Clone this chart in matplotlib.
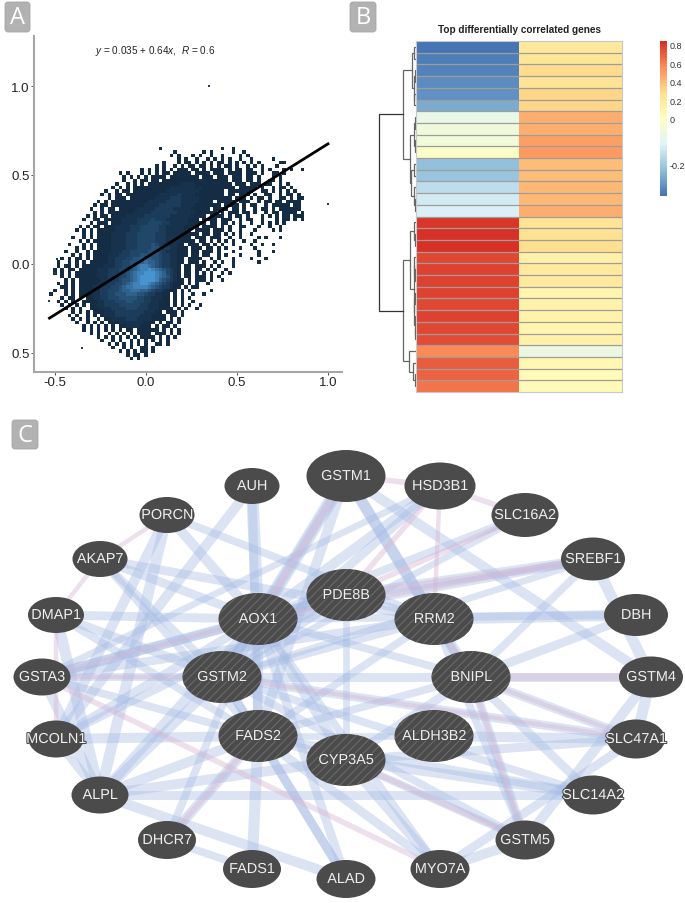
"""Three panel figure: correlation density, gene heatmap, gene network."""

import matplotlib
matplotlib.use("Agg")
import matplotlib.pyplot as plt
import numpy as np
from matplotlib.colors import LinearSegmentedColormap, PowerNorm, TwoSlopeNorm
from matplotlib.patches import Ellipse, FancyBboxPatch
from matplotlib import patheffects

plt.rcParams["font.family"] = ["Liberation Sans", "DejaVu Sans"]
plt.rcParams["hatch.linewidth"] = 0.7
plt.rcParams["mathtext.fontset"] = "custom"
plt.rcParams["mathtext.rm"] = "Liberation Sans"
plt.rcParams["mathtext.it"] = "Liberation Sans:italic"

WIDTH, HEIGHT = 685, 904

# ── Panel A data ──────────────────────────────────────────────────────────────

# bins of 0.02, one row per y from the top down,
# (first x bin, counts level) where "." is an empty bin
BIN = 0.02
X_ORIGIN = -0.56
Y_ORIGIN = 0.65
density_rows = [
    (32, "1................1..1"),
    (36, "1.......1.1.....1..1"),
    (35, "1.1...1.1..1..1....1.1"),
    (37, "1.1..1..1.1.1.1..1..1.....1"),
    (33, "1...1.11.1.1.1.11.1.1.1.1.1.....11"),
    (31, "1.1..1.1.11.11.1.1.11.1..1.1.1...1"),
    (27, "1.1.1.1.1.111.11.1.1111.1.11.11..1.1...1.1..1"),
    (21, "1.1...1.1.1.11.11111.1111.111.1111.111.1..11.1"),
    (22, "1.1.1.1.1111.11111111.111.111.111.11.1...1.1"),
    (22, "1..1.11.11.111111111122111111.111.11.1..11.1."),
    (20, "1..1.1.1.1" "1111111122" "2211111111" "11.111.111" ".11..1.1"),
    (19, "1.1.1.1111" "1111112222" "2221211111" "1111.11111" ".1..1.11.1"),
    (17, "1..1.11.11" "1111111222" "2222221111" "111.111111" "1..11.1.1." "1.1"),
    (16, "1.1.11.111" "1111112222" "2322221111" "1111.11.11" "1.1..11..1" ".11.1"),
    (16, "..1.111.11" "1111122223" "3322222111" "111111.111" ".1.11.1..1" "1.1.11"),
    (15, "1.1.111111" "1111222223" "3332222211" "11.11111.1" "11..1.11.1" "1.1111"),
    (14, "1.11.11111" "1111222233" "3333222211" "11111.1111" ".1.11..1.1" "1111.11"),
    (13, "1..1.11.11" "1112222233" "3332222211" "111.1111.1" "1.1..1.11." "1.111111"),
    (13, ".1.1.11111" "1122222333" "3333222221" "11111.1.11" "1.11.1..1." "11.1111.11"),
    (12, "1.1.11.111" "1222223333" "3332222221" "111.1111.1" ".11.1...1." "1.1.11.111"),
    (11, "1..11.1111" "1222233334" "3332222221" "11.1111.11" "1..1.11..1" "...1.11.1." "11"),
    (11, "..1.111.11" "1222233344" "4433222221" "1111.11.11" ".1.1..1..1" ".1.1.1"),
    (10, "1.1.11.111" "2222333444" "4433222221" "111.1111.1" ".1..11...1" "..1..1"),
    (9, "1.1.1.1111" "1222233344" "4443322222" "11.1111.11" "1.1..1...1" "....1.1."),
    (9, "..1.1.1111" "2222333444" "4433322221" "1111.11.11" ".1.1.1..1."),
    (8, "1..1.1.111" "1222233344" "4443332222" "111.111.11" "1..1..1..." ".1.1...1.."),
    (8, "..1.1.1111" "1222233344" "4443332222" "1111.11.1." "1.1.1..1.." "1"),
    (7, "1...1.1.11" "1122223334" "4445433222" "11.111.11." "1.1..1...." "1..1..1"),
    (7, "..1.1.1.11" "1122223334" "4445543322" "111.111.11" ".1.1...1.." ".1."),
    (6, "1..1..1.11" "1112223344" "4445554322" "2111.11.11" "1.1...1..." "...1...1"),
    (6, "..1.1.1.11" "1122233344" "4555554332" "2111.11.11" "..1.1...1." "...1"),
    (5, "1.1.11.1.1" "1112233344" "5566655433" "2211.1111." ".1.1...1.." "..1...1"),
    (4, "1..1.1.1.1" "1111223344" "5566766543" "32211.111." "1..1.1..1." ".....1"),
    (4, "1.11.1.111" "1112223344" "5678876543" "3221.11.11" "1.1.1...1"),
    (3, "1.1.11.111" "1122233344" "4567889876" "54321.11.1" "1.1.1..1"),
    (3, "1.1.1.1111" "1122233344" "5678899987" "64321.11.1" ".1.1..1.1"),
    (4, ".1.1.11111" "1222333445" "6789999876" "5321.11.11" "1.1.1"),
    (4, "..1.1.1111" "1122333455" "6789999865" "43211.1.11" "1.1..1"),
    (4, "1.1.1.1111" "1223334456" "7889987654" "32111.1.1." ".1"),
    (4, ".11.1.1111" "2233344567" "7888876543" "3211.1.11."),
    (3, "1..1.1.111" "1223344456" "6777665433" "2111.1.1.." "...1"),
    (2, "1...1.1.11" "1122334455" "5666554332" "211.1.1..1" "..1"),
    (3, "..1.11.1.1" "1223344455" "5554433222" "11.1.1.1"),
    (4, "1.1.1..111" "1223334445" "5444332211" "1.1.1..1"),
    (5, "1.1.1.1.11" "2233334444" "4433222111" ".1.1.1..1"),
    (6, "1.1.1..111" "2223333444" "3332221111" ".1.1..1"),
    (6, "..1.1.1.11" "1222333333" "3322211.11" "1.1"),
    (7, "1.1..1.1.1" "2223333333" "2221111.11" ".1"),
    (8, "1.1.1..1.1" "1222233322" "221111.1.1"),
    (9, "1..1.1.1.1" "1122222221" "11.1.11.1"),
    (9, "..1.1.1.1." "1.11222211" "1.1.11.1"),
    (11, "1.1.1.1.1." "1.11.11111" "1.1.1.1"),
    (13, "1.1..1.1.1" ".1.1111.11" "1.1.1"),
    (15, "1.1.1.1.1." "1.1111.1.1" ".1"),
    (16, "1..1.1..1." "1.1.1.1.1"),
    (18, "1.1.1.1.1." "1..11.1"),
    (19, "1..1.1..11" ".1"),
    (21, "1.1.1.11.1"),
    (23, "1.11.1"),
    (24, "1.1"),
]

# single isolated bins
outlier_x = [0.345, 1.0, -0.53, -0.5, -0.49, -0.35]
outlier_y = [1.0, 0.335, -0.21, -0.05, 0.03, -0.47]

# fit printed on the panel
fit_intercept = 0.035
fit_slope = 0.64
fit_x = [-0.53, 1.0]

a_xticks = [-0.5, 0.0, 0.5, 1.0]
a_xlabels = ["-0.5", "0.0", "0.5", "1.0"]
a_yticks = [-0.5, 0.0, 0.5, 1.0]
a_ylabels = ["0.5", "0.0", "0.5", "1.0"]

# ── Panel B data ──────────────────────────────────────────────────────────────

heat_left = [-0.33, -0.32, -0.31, -0.30, -0.29, -0.25, -0.08, -0.06, -0.05, -0.02,
             -0.22, -0.21, -0.16, -0.13, -0.115, 0.81, 0.84, 0.84, 0.77, 0.78,
             0.78, 0.79, 0.76, 0.78, 0.77, 0.75, 0.56, 0.70, 0.68, 0.63]
heat_right = [0.21, 0.22, 0.29, 0.24, 0.31, 0.31, 0.44, 0.45, 0.49, 0.52,
              0.39, 0.40, 0.42, 0.42, 0.45, 0.24, 0.26, 0.27, 0.12, 0.20,
              0.19, 0.10, 0.11, 0.11, 0.09, 0.12, -0.07, 0.07, 0.03, 0.04]

heat_colors = ["#4575b4", "#91bfdb", "#e0f3f8", "#ffffbf", "#fee090", "#fc8d59", "#d73027"]
heat_min, heat_max = -0.334, 0.843
heat_ticks = [0.8, 0.6, 0.4, 0.2, 0, -0.2]
heat_ticklabels = ["0.8", "0.6", "0.4", "0.2", "0", "-0.2"]

# row clustering as (height, child, child), a bare int is a row
row_tree = (112,
            (39,
             (12, (6, 0, 1), (7, (4, 2, 3), (5, 4, 5))),
             (19,
              (7, (4, 6, 7), (3, 8, 9)),
              (15, (6, 10, 11), (5, 12, (3, 13, 14))))),
            (40,
             (17,
              (6, 15, (3, 16, 17)),
              (7, (5, 18, (3, 19, 20)), (5, (3, 21, 22), (4, 23, (3, 24, 25))))),
             (20, 26, (9, 27, (4, 28, 29)))))

# ── Panel C data ──────────────────────────────────────────────────────────────

# name: centre x, centre y, width, height in picture pixels
outer_nodes = {
    "GSTM1": (346, 477, 79, 52), "HSD3B1": (440, 487, 71, 47),
    "SLC16A2": (525, 516, 67, 44), "SREBF1": (593, 560, 64, 43),
    "DBH": (636, 616, 64, 42), "GSTM4": (651, 678, 64, 41),
    "SLC47A1": (636, 740, 58, 39), "SLC14A2": (593, 796, 60, 39),
    "GSTM5": (525, 841, 59, 39), "MYO7A": (440, 870, 59, 38),
    "ALAD": (346, 880, 59, 38), "FADS1": (252, 870, 58, 38),
    "DHCR7": (167, 841, 58, 38), "ALPL": (100, 796, 57, 37),
    "MCOLN1": (56, 740, 55, 37), "GSTA3": (42, 678, 57, 37),
    "DMAP1": (56, 616, 56, 36), "AKAP7": (100, 560, 55, 36),
    "PORCN": (167, 516, 55, 36), "AUH": (252, 487, 55, 36),
}
inner_nodes = {
    "AOX1": (258, 620, 79, 52), "PDE8B": (346, 596, 79, 52),
    "RRM2": (434, 620, 79, 52), "BNIPL": (471, 678, 79, 52),
    "ALDH3B2": (434, 737, 79, 52), "CYP3A5": (346, 761, 79, 52),
    "FADS2": (258, 737, 79, 52), "GSTM2": (222, 678, 79, 52),
}

blue_edges = [
    ("AUH", "AOX1", 11), ("AUH", "FADS2", 8), ("AUH", "MCOLN1", 9),
    ("PORCN", "MCOLN1", 9), ("PORCN", "ALPL", 10), ("PORCN", "AOX1", 9), ("PORCN", "RRM2", 7),
    ("AKAP7", "AOX1", 8), ("AKAP7", "RRM2", 8), ("AKAP7", "GSTM2", 7), ("AKAP7", "FADS2", 7),
    ("DMAP1", "AOX1", 8), ("DMAP1", "ALPL", 10), ("DMAP1", "GSTM2", 8), ("DMAP1", "FADS2", 7),
    ("GSTA3", "AOX1", 8), ("GSTA3", "PDE8B", 9), ("GSTA3", "RRM2", 8),
    ("GSTA3", "GSTM2", 7), ("GSTA3", "FADS2", 7), ("GSTA3", "ALPL", 9),
    ("MCOLN1", "FADS2", 9), ("MCOLN1", "AOX1", 8), ("MCOLN1", "ALPL", 8), ("MCOLN1", "PDE8B", 7),
    ("ALPL", "AOX1", 9), ("ALPL", "GSTM2", 9), ("ALPL", "FADS2", 9), ("ALPL", "CYP3A5", 9),
    ("ALPL", "SLC14A2", 8), ("ALPL", "ALAD", 9),
    ("DHCR7", "FADS2", 9), ("DHCR7", "AOX1", 7), ("DHCR7", "FADS1", 7),
    ("FADS1", "FADS2", 10),
    ("ALAD", "FADS2", 8), ("ALAD", "AOX1", 8), ("ALAD", "GSTM2", 8),
    ("MYO7A", "CYP3A5", 9), ("MYO7A", "AOX1", 7), ("MYO7A", "GSTM5", 9),
    ("MYO7A", "SLC47A1", 8), ("MYO7A", "FADS2", 8),
    ("GSTM5", "BNIPL", 8), ("GSTM5", "RRM2", 7), ("GSTM5", "CYP3A5", 7),
    ("GSTM5", "GSTM4", 9), ("GSTM5", "GSTM2", 7),
    ("SLC14A2", "CYP3A5", 9), ("SLC14A2", "FADS2", 8), ("SLC14A2", "BNIPL", 8), ("SLC14A2", "GSTM2", 7),
    ("SLC47A1", "BNIPL", 8), ("SLC47A1", "ALDH3B2", 9), ("SLC47A1", "GSTM2", 8),
    ("SLC47A1", "CYP3A5", 8), ("SLC47A1", "GSTM4", 10),
    ("GSTM4", "BNIPL", 8), ("GSTM4", "GSTM1", 9), ("GSTM4", "SREBF1", 10),
    ("DBH", "RRM2", 10), ("DBH", "BNIPL", 8), ("DBH", "AOX1", 7),
    ("SREBF1", "PDE8B", 9), ("SREBF1", "AOX1", 8), ("SREBF1", "BNIPL", 7), ("SREBF1", "GSTM2", 6),
    ("SLC16A2", "AOX1", 7), ("SLC16A2", "GSTM2", 6),
    ("HSD3B1", "AOX1", 9), ("HSD3B1", "GSTM2", 8), ("HSD3B1", "GSTA3", 6),
    ("GSTM1", "AOX1", 12), ("GSTM1", "RRM2", 10), ("GSTM1", "BNIPL", 10),
    ("GSTM1", "GSTM2", 9), ("GSTM1", "FADS2", 9),
    ("PDE8B", "AOX1", 8), ("PDE8B", "RRM2", 7), ("PDE8B", "GSTM2", 7), ("PDE8B", "CYP3A5", 6),
    ("AOX1", "BNIPL", 7), ("AOX1", "GSTM2", 9), ("AOX1", "FADS2", 9), ("AOX1", "CYP3A5", 9),
    ("RRM2", "GSTM2", 7), ("RRM2", "BNIPL", 7), ("RRM2", "FADS2", 7),
    ("BNIPL", "GSTM2", 8), ("BNIPL", "FADS2", 7), ("BNIPL", "CYP3A5", 8),
    ("GSTM2", "FADS2", 8), ("FADS2", "CYP3A5", 8), ("FADS2", "ALDH3B2", 6),
]
pink_edges = [
    ("AKAP7", "DMAP1", 4), ("AKAP7", "PORCN", 4), ("DMAP1", "MCOLN1", 4),
    ("GSTA3", "MYO7A", 5), ("GSTM1", "HSD3B1", 5), ("HSD3B1", "SLC16A2", 5),
    ("SLC16A2", "PDE8B", 5), ("HSD3B1", "PDE8B", 5), ("HSD3B1", "RRM2", 4),
    ("SREBF1", "PDE8B", 5), ("SREBF1", "AOX1", 4), ("GSTM1", "AOX1", 6),
    ("BNIPL", "GSTM4", 7), ("BNIPL", "SLC47A1", 4), ("BNIPL", "GSTM5", 5),
    ("GSTM2", "SLC47A1", 4), ("CYP3A5", "GSTM5", 5), ("DHCR7", "FADS2", 5),
    ("GSTA3", "GSTM2", 4), ("AOX1", "GSTA3", 4), ("RRM2", "BNIPL", 5),
]

panel_letters = [("A", 5, 3, 25, 30), ("B", 350, 3, 26, 30), ("C", 12, 421, 26, 29)]


def px_axes(fig, left, top, right, bottom):
    return fig.add_axes([left / WIDTH, 1 - bottom / HEIGHT,
                         (right - left) / WIDTH, (bottom - top) / HEIGHT])


def draw_density(ax):
    n_cols = 72
    grid = np.full((len(density_rows), n_cols), np.nan)
    for r, (start, cells) in enumerate(density_rows):
        for i, ch in enumerate(cells):
            if ch != "." and start + i < n_cols:
                grid[r, start + i] = int(ch)
    x_edges = X_ORIGIN + BIN * np.arange(n_cols + 1) - BIN / 2
    y_edges = Y_ORIGIN + BIN / 2 - BIN * np.arange(len(density_rows) + 1)
    cmap = LinearSegmentedColormap.from_list("gg", ["#132B43", "#56B1F7"])
    ax.pcolormesh(x_edges, y_edges, np.ma.masked_invalid(grid), cmap=cmap,
                  norm=PowerNorm(gamma=1.5, vmin=0.5, vmax=10.5))
    ax.scatter(outlier_x, outlier_y, marker="s", s=3, color="#1d3f5f", linewidths=0)

    line_x = np.array(fit_x)
    ax.plot(line_x, fit_intercept + fit_slope * line_x, color="black", lw=2.0)

    ax.set_xlim(-0.615, 1.077)
    ax.set_ylim(-0.607, 1.281)
    ax.set_xticks(a_xticks, a_xlabels)
    ax.set_yticks(a_yticks, a_ylabels)
    ax.tick_params(labelsize=9.5, length=2, width=0.7, pad=1, color="#555555", labelcolor="#222222")
    for side in ("top", "right"):
        ax.spines[side].set_visible(False)
    for side in ("left", "bottom"):
        ax.spines[side].set_color("#a6a6a6")
        ax.spines[side].set_linewidth(1.5)
    ax.text(0.198, 0.957, r"$y$ = 0.035 + 0.64$x$,  $R$ = 0.6", transform=ax.transAxes,
            ha="left", va="center", fontsize=7.2, color="#222222")


def draw_tree(ax, node):
    """Draws the subtree, returns its row position."""
    if isinstance(node, int):
        return node + 0.5, 0
    height, first, second = node
    y1, h1 = draw_tree(ax, first)
    y2, h2 = draw_tree(ax, second)
    color = "#333333" if height > 100 else "#666666"
    ax.plot([h1, height, height, h2], [y1, y1, y2, y2], color=color, lw=0.9,
            solid_joinstyle="miter")
    return (y1 + y2) / 2, height


def draw_heatmap(fig):
    cmap = LinearSegmentedColormap.from_list("heat", heat_colors, N=100)
    norm = TwoSlopeNorm(vmin=heat_min, vcenter=0, vmax=heat_max)
    n_rows = len(heat_left)

    ax = px_axes(fig, 416, 42, 622, 393)
    values = np.column_stack([heat_left, heat_right])
    mesh = ax.pcolormesh(np.arange(3), np.arange(n_rows + 1), values, cmap=cmap, norm=norm)
    ax.hlines(np.arange(1, n_rows), 0, 2, color="#a09c98", lw=0.9)
    ax.set_ylim(n_rows, 0)
    ax.set_xticks([])
    ax.set_yticks([])
    for spine in ax.spines.values():
        spine.set_color("#c8c8c8")
    ax.text(0.5, 1.035, "Top differentially correlated genes", transform=ax.transAxes,
            ha="center", va="center", fontsize=7.2, fontweight="bold", color="#222222")

    tree_ax = px_axes(fig, 378, 42, 416, 393)
    draw_tree(tree_ax, row_tree)
    tree_ax.set_xlim(114, 0)
    tree_ax.set_ylim(n_rows, 0)
    tree_ax.axis("off")

    cax = px_axes(fig, 660, 42, 667, 197)
    cbar = fig.colorbar(mesh, cax=cax, ticks=heat_ticks, spacing="proportional")
    cbar.set_ticklabels(heat_ticklabels)
    cbar.outline.set_visible(False)
    cbar.ax.tick_params(length=0, labelsize=6.5, pad=2, labelcolor="#333333")


def draw_network(ax):
    nodes = {**outer_nodes, **inner_nodes}
    for edges, color, alpha in ((blue_edges, "#a3b9e3", 0.38), (pink_edges, "#d6b6d2", 0.42)):
        for a, b, w in edges:
            ax.plot([nodes[a][0], nodes[b][0]], [nodes[a][1], nodes[b][1]], color=color,
                    alpha=alpha, lw=w * 0.8, solid_capstyle="butt", zorder=1)

    for name, (x, y, w, h) in nodes.items():
        ax.add_patch(Ellipse((x, y), w, h, facecolor="#4b4b4b", edgecolor="none", zorder=2))
        if name in inner_nodes:
            ax.add_patch(Ellipse((x, y), w, h, facecolor="none", edgecolor="#6e6e6e",
                                 hatch="////", lw=0, zorder=3))
        ax.text(x, y, name, ha="center", va="center", color="#eeeeee", zorder=4,
                fontsize=10.4,
                path_effects=[patheffects.withStroke(linewidth=1.5, foreground="#4b4b4b")])


def draw_letters(ax):
    for letter, x, y, w, h in panel_letters:
        ax.add_patch(FancyBboxPatch((x + 3, y + 3), w - 6, h - 6, boxstyle="round,pad=3,rounding_size=3",
                                    facecolor="#b2b2b2", edgecolor="#a6a6a6", lw=0.6, zorder=5))
        ax.text(x + w / 2, y + h / 2 + 0.5, letter, ha="center", va="center", color="white",
                family=["Open Sans", "DejaVu Sans"], fontsize=17, zorder=6)


def main():
    fig = plt.figure(figsize=(WIDTH / 100, HEIGHT / 100), dpi=100, facecolor="white")

    # whole picture in pixel coordinates for the network and the panel letters
    canvas = fig.add_axes([0, 0, 1, 1])
    canvas.set_xlim(0, WIDTH)
    canvas.set_ylim(HEIGHT, 0)
    canvas.axis("off")
    draw_network(canvas)
    draw_letters(canvas)

    draw_density(px_axes(fig, 34, 37, 342, 373))
    draw_heatmap(fig)

    fig.savefig("out.png", dpi=100)
    plt.close(fig)


main()
